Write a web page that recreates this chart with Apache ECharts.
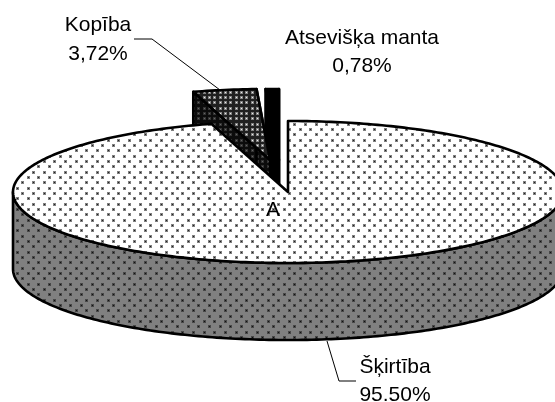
<!DOCTYPE html>
<html>
<head>
<meta charset="utf-8">
<style>
html, body { margin: 0; padding: 0; background: #fff; }
#chart { width: 555px; height: 402px; }
</style>
<script src="https://cdn.jsdelivr.net/npm/echarts@6/dist/echarts.min.js"></script>
</head>
<body>
<div id="chart"></div>
<script>
// data, in clockwise order from 12 o'clock
var categories = ['Šķirtība', 'Kopība', 'Atsevišķa manta'];
var values = [95.50, 3.72, 0.78];
var valueLabels = ['95.50%', '3,72%', '0,78%'];

(function () {
    var myChart = echarts.init(document.getElementById('chart'));

    // the tilted pie
    var cx = 288, cy = 192, rx = 275, ry = 71, depth = 77;
    // how far each slice is pulled out of the pie, by category index
    var offsets = [[0, 0], [-18, -32], [-9, -32]];
    // painted back to front
    var zOrder = [3, 2, 1];
    var font = '21px "Liberation Sans", Arial, sans-serif';
    var baseDrop = 4; // text is bottom aligned, this takes it down to the baseline

    // label anchors: centre x, first baseline, second baseline
    var labelPos = [[395, 374, 402], [98, 32, 61], [362, 45, 73]];

    // tile of dots, same look as the office fill patterns
    function dots(bg, dot, halo, step, staggered) {
        var n = Math.round(32 / step);
        var c = document.createElement('canvas');
        c.width = c.height = 32;
        var g = c.getContext('2d');
        g.fillStyle = bg;
        g.fillRect(0, 0, 32, 32);
        function put(x, y) {
            g.fillStyle = halo;
            g.fillRect(x, y, 3, 3);
            g.fillStyle = dot;
            g.fillRect(x + 1, y + 1, 1, 1);
        }
        for (var i = 0; i < n; i++) {
            for (var j = 0; j < n; j++) {
                put(Math.round(i * step), Math.round(j * step));
                if (staggered) {
                    put(Math.round((i + .5) * step), Math.round((j + .5) * step));
                }
            }
        }
        return { image: c, repeat: 'repeat' };
    }

    var topFill = [
        dots('#ffffff', '#222222', '#808080', 32 / 3, true),
        dots('#202020', '#eeeeee', '#808080', 16 / 3, false),
        '#000000'
    ];
    var sideFill = [
        dots('#808080', '#111111', '#484848', 32 / 3, true),
        dots('#0c0c0c', '#666666', '#333333', 16 / 3, false),
        '#000000'
    ];

    function rimPoint(deg, ox, oy) {
        var a = deg * Math.PI / 180;
        return [cx + ox + rx * Math.sin(a), cy + oy - ry * Math.cos(a)];
    }

    function arcPoints(from, to, ox, oy) {
        var pts = [];
        var n = Math.max(2, Math.ceil(Math.abs(to - from)));
        for (var i = 0; i <= n; i++) {
            pts.push(rimPoint(from + (to - from) * i / n, ox, oy));
        }
        return pts;
    }

    function poly(points, fill, z2) {
        return {
            type: 'polygon',
            z2: z2,
            shape: { points: points },
            style: { fill: fill, stroke: '#000', lineWidth: 2.6, lineJoin: 'round' }
        };
    }

    function renderSlice(params, api) {
        var i = params.dataIndex;
        var total = values.reduce(function (a, b) { return a + b; }, 0);
        var before = 0;
        for (var k = 0; k < i; k++) before += values[k];
        var start = before / total * 360;
        var end = (before + api.value(0)) / total * 360;
        var ox = offsets[i][0], oy = offsets[i][1];
        var apex = [cx + ox, cy + oy];
        var z = zOrder[i] * 10;
        var children = [];

        if (i === 0) {
            // front wall of the big slice
            var front = arcPoints(90, 270, ox, oy);
            var wall = front.concat(front.map(function (p) {
                return [p[0], p[1] + depth];
            }).reverse());
            children.push(poly(wall, sideFill[i], z));
        } else {
            // cut faces of the pulled-out slice
            var a = rimPoint(start, ox, oy);
            var b = rimPoint(end, ox, oy);
            children.push(poly([a, apex, [apex[0], apex[1] + depth], [a[0], a[1] + depth]], sideFill[i], z));
            children.push(poly([b, apex, [apex[0], apex[1] + depth], [b[0], b[1] + depth]], sideFill[i], z));
        }
        children.push(poly([apex].concat(arcPoints(start, end, ox, oy)), topFill[i], z + 1));

        var pos = labelPos[i];
        [[categories[i], pos[1]], [valueLabels[i], pos[2]]].forEach(function (t) {
            children.push({
                type: 'text',
                z2: 100,
                style: {
                    text: t[0], x: pos[0], y: t[1] + baseDrop, fill: '#000', font: font,
                    textAlign: 'center', verticalAlign: 'bottom'
                }
            });
        });
        return { type: 'group', children: children };
    }

    var option = {
        backgroundColor: '#fff',
        animation: false,
        series: [{
            type: 'custom',
            coordinateSystem: 'none',
            silent: true,
            clip: false,
            renderItem: renderSlice,
            data: values.map(function (v) { return [v]; })
        }],
        graphic: [
            // leader lines
            {
                type: 'polyline', z: 5,
                shape: { points: [[134, 39], [152, 39], [220, 90]] },
                style: { fill: null, stroke: '#000', lineWidth: 1 }
            },
            {
                type: 'polyline', z: 5,
                shape: { points: [[327, 341], [339, 381], [356, 381]] },
                style: { fill: null, stroke: '#000', lineWidth: 1 }
            },
            // the stray letter under the apex
            {
                type: 'text', z: 5, x: 273, y: 217 + baseDrop,
                style: {
                    text: 'A', fill: '#000', font: font,
                    textAlign: 'center', verticalAlign: 'bottom'
                }
            }
        ]
    };
    myChart.setOption(option);
    //让图表跟随屏幕自动的去适应
    window.addEventListener('resize', function () {
        myChart.resize();
    });
})();
</script>
</body>
</html>
